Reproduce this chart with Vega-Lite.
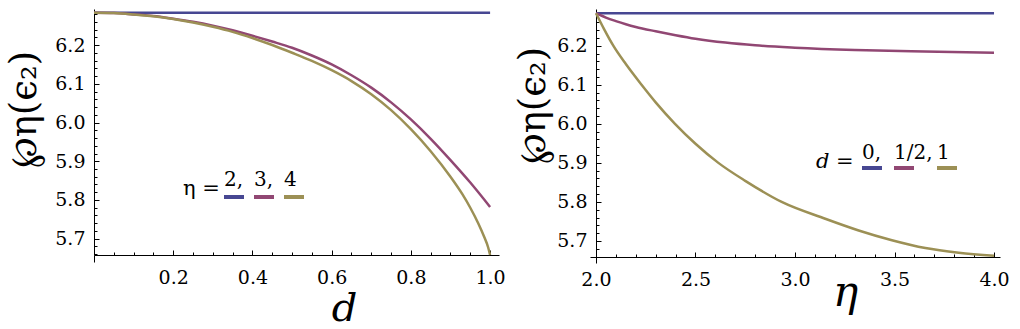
{
  "$schema": "https://vega.github.io/schema/vega-lite/v6.json",
  "background": "white",
  "padding": {"left": 5, "top": 7, "right": 5, "bottom": 5},
  "bounds": "flush",
  "spacing": 91,
  "config": {
    "view": {"stroke": null},
    "axis": {
      "domainColor": "black", "domainWidth": 1, "tickColor": "black", "tickWidth": 1,
      "labelColor": "black", "labelFont": "DejaVu Serif", "labelFontSize": 19,
      "titleColor": "black", "titleFont": "DejaVu Serif", "titleFontWeight": "normal",
      "grid": false, "labelFlush": false, "labelOverlap": false
    },
    "legend": {
      "labelFont": "DejaVu Serif", "labelFontSize": 20, "labelColor": "black",
      "titleFont": "DejaVu Serif", "titleFontSize": 21, "titleFontWeight": "normal", "titleColor": "black"
    }
  },
  "datasets": {
    "left": [
      {"d": 0, "value": 6.2832, "eta": "2"}, {"d": 0.25, "value": 6.2832, "eta": "2"}, {"d": 0.5, "value": 6.2832, "eta": "2"}, {"d": 0.75, "value": 6.2832, "eta": "2"}, {"d": 1, "value": 6.2832, "eta": "2"},
      {"d": 0, "value": 6.2832, "eta": "3"}, {"d": 0.05, "value": 6.2825, "eta": "3"}, {"d": 0.1, "value": 6.279, "eta": "3"}, {"d": 0.15, "value": 6.275, "eta": "3"}, {"d": 0.2, "value": 6.268, "eta": "3"}, {"d": 0.25, "value": 6.26, "eta": "3"}, {"d": 0.3, "value": 6.25, "eta": "3"}, {"d": 0.35, "value": 6.238, "eta": "3"}, {"d": 0.4, "value": 6.224, "eta": "3"}, {"d": 0.45, "value": 6.209, "eta": "3"}, {"d": 0.5, "value": 6.193, "eta": "3"}, {"d": 0.55, "value": 6.173, "eta": "3"}, {"d": 0.6, "value": 6.15, "eta": "3"}, {"d": 0.65, "value": 6.122, "eta": "3"}, {"d": 0.7, "value": 6.09, "eta": "3"}, {"d": 0.75, "value": 6.052, "eta": "3"}, {"d": 0.8, "value": 6.008, "eta": "3"}, {"d": 0.85, "value": 5.958, "eta": "3"}, {"d": 0.9, "value": 5.903, "eta": "3"}, {"d": 0.95, "value": 5.845, "eta": "3"}, {"d": 1, "value": 5.782, "eta": "3"},
      {"d": 0, "value": 6.2832, "eta": "4"}, {"d": 0.05, "value": 6.2825, "eta": "4"}, {"d": 0.1, "value": 6.279, "eta": "4"}, {"d": 0.15, "value": 6.274, "eta": "4"}, {"d": 0.2, "value": 6.267, "eta": "4"}, {"d": 0.25, "value": 6.258, "eta": "4"}, {"d": 0.3, "value": 6.247, "eta": "4"}, {"d": 0.35, "value": 6.234, "eta": "4"}, {"d": 0.4, "value": 6.218, "eta": "4"}, {"d": 0.45, "value": 6.2, "eta": "4"}, {"d": 0.5, "value": 6.18, "eta": "4"}, {"d": 0.55, "value": 6.159, "eta": "4"}, {"d": 0.6, "value": 6.135, "eta": "4"}, {"d": 0.65, "value": 6.107, "eta": "4"}, {"d": 0.7, "value": 6.073, "eta": "4"}, {"d": 0.75, "value": 6.032, "eta": "4"}, {"d": 0.8, "value": 5.983, "eta": "4"}, {"d": 0.85, "value": 5.926, "eta": "4"}, {"d": 0.9, "value": 5.86, "eta": "4"}, {"d": 0.93, "value": 5.815, "eta": "4"}, {"d": 0.95, "value": 5.78, "eta": "4"}, {"d": 0.97, "value": 5.74, "eta": "4"}, {"d": 0.985, "value": 5.705, "eta": "4"}, {"d": 0.995, "value": 5.678, "eta": "4"}, {"d": 1, "value": 5.658, "eta": "4"}
    ],
    "right": [
      {"eta": 2, "value": 6.2832, "d": "0"}, {"eta": 3, "value": 6.2832, "d": "0"}, {"eta": 4, "value": 6.2832, "d": "0"},
      {"eta": 2, "value": 6.2832, "d": "1/2"}, {"eta": 2.05, "value": 6.272, "d": "1/2"}, {"eta": 2.1, "value": 6.263, "d": "1/2"}, {"eta": 2.15, "value": 6.255, "d": "1/2"}, {"eta": 2.2, "value": 6.248, "d": "1/2"}, {"eta": 2.3, "value": 6.237, "d": "1/2"}, {"eta": 2.4, "value": 6.227, "d": "1/2"}, {"eta": 2.5, "value": 6.218, "d": "1/2"}, {"eta": 2.65, "value": 6.208, "d": "1/2"}, {"eta": 2.8, "value": 6.201, "d": "1/2"}, {"eta": 3.0, "value": 6.195, "d": "1/2"}, {"eta": 3.3, "value": 6.189, "d": "1/2"}, {"eta": 3.65, "value": 6.185, "d": "1/2"}, {"eta": 4.0, "value": 6.182, "d": "1/2"},
      {"eta": 2, "value": 6.2832, "d": "1"}, {"eta": 2.04, "value": 6.243, "d": "1"}, {"eta": 2.087, "value": 6.2, "d": "1"}, {"eta": 2.15, "value": 6.153, "d": "1"}, {"eta": 2.229, "value": 6.1, "d": "1"}, {"eta": 2.3, "value": 6.055, "d": "1"}, {"eta": 2.397, "value": 6.0, "d": "1"}, {"eta": 2.5, "value": 5.949, "d": "1"}, {"eta": 2.615, "value": 5.9, "d": "1"}, {"eta": 2.75, "value": 5.854, "d": "1"}, {"eta": 2.933, "value": 5.8, "d": "1"}, {"eta": 3.152, "value": 5.757, "d": "1"}, {"eta": 3.32, "value": 5.727, "d": "1"}, {"eta": 3.487, "value": 5.702, "d": "1"}, {"eta": 3.655, "value": 5.682, "d": "1"}, {"eta": 3.823, "value": 5.67, "d": "1"}, {"eta": 4.0, "value": 5.662, "d": "1"}
    ]
  },
  "resolve": {"scale": {"color": "independent"}},
  "hconcat": [
    {
      "width": 405,
      "height": 246,
      "data": {"name": "left"},
      "resolve": {"axis": {"x": "independent", "y": "independent"}},
      "layer": [
        {
          "mark": {"type": "line", "strokeWidth": 2.5, "interpolate": "monotone"},
          "encoding": {
            "x": {"field": "d", "type": "quantitative",
              "scale": {"domain": [0, 1.0225], "nice": false, "zero": false},
              "axis": {"orient": "bottom", "values": [0.2, 0.4, 0.6, 0.8, 1.0], "format": ".1f", "tickSize": -5, "labelPadding": 18,
                "title": "d", "titleFontSize": 40, "titleFontStyle": "italic", "titleX": 250, "titleY": 65, "titleAlign": "center", "titleBaseline": "alphabetic"}},
            "y": {"field": "value", "type": "quantitative",
              "scale": {"domain": [5.658, 6.293], "nice": false, "zero": false},
              "axis": {"orient": "left", "values": [5.7, 5.8, 5.9, 6.0, 6.1, 6.2], "format": ".1f", "tickSize": -5, "labelPadding": 14,
                "title": "℘η(ϵ₂)", "titleFontSize": 37, "titleX": -70, "titleY": 100, "titleAngle": 270, "titleAlign": "center", "titleBaseline": "middle"}},
            "color": {"field": "eta", "type": "nominal",
              "scale": {"domain": ["2", "3", "4"], "range": ["#474792", "#914773", "#9c9055"]},
              "legend": {"orient": "none", "legendX": 89, "legendY": 169, "direction": "horizontal", "title": "η =", "titleOrient": "left", "titlePadding": 2, "titleAnchor": "start", "titleBaseline": "top",
                "symbolType": "M-1,0.7H1", "symbolStrokeWidth": 4, "symbolSize": 400, "labelOffset": -22, "labelAlign": "left", "labelBaseline": "bottom", "columnPadding": -6,
                "labelExpr": "datum.label == '4' ? '4' : datum.label + ','"}}
          }
        },
        {
          "mark": {"type": "point", "opacity": 0},
          "encoding": {
            "x": {"field": "d", "type": "quantitative",
              "scale": {"domain": [0, 1.0225], "nice": false, "zero": false},
              "axis": {"orient": "bottom", "values": [0.05, 0.1, 0.15, 0.2, 0.25, 0.3, 0.35, 0.4, 0.45, 0.5, 0.55, 0.6, 0.65, 0.7, 0.75, 0.8, 0.85, 0.9, 0.95, 1.0], "labels": false, "domain": false, "tickSize": -3, "title": null}},
            "y": {"field": "value", "type": "quantitative",
              "scale": {"domain": [5.658, 6.293], "nice": false, "zero": false},
              "axis": {"orient": "left", "values": [5.66, 5.68, 5.7, 5.72, 5.74, 5.76, 5.78, 5.8, 5.82, 5.84, 5.86, 5.88, 5.9, 5.92, 5.94, 5.96, 5.98, 6.0, 6.02, 6.04, 6.06, 6.08, 6.1, 6.12, 6.14, 6.16, 6.18, 6.2, 6.22, 6.24, 6.26, 6.28], "labels": false, "domain": false, "tickSize": -3, "title": null}}
          }
        },
        {
          "mark": {"type": "point", "opacity": 0},
          "encoding": {
            "x": {"field": "d", "type": "quantitative",
              "scale": {"domain": [0, 1.0225], "nice": false, "zero": false},
              "axis": {"orient": "bottom", "values": [0], "labels": false, "domain": false, "tickSize": 7, "title": null}},
            "y": {"field": "value", "type": "quantitative",
              "scale": {"domain": [5.658, 6.293], "nice": false, "zero": false},
              "axis": null}
          }
        }
      ]
    },
    {
      "width": 410,
      "height": 248,
      "data": {"name": "right"},
      "resolve": {"axis": {"x": "independent", "y": "independent"}},
      "layer": [
        {
          "mark": {"type": "line", "strokeWidth": 2.5, "interpolate": "monotone"},
          "encoding": {
            "x": {"field": "eta", "type": "quantitative",
              "scale": {"domain": [1.97, 4.03], "nice": false, "zero": false},
              "axis": {"orient": "bottom", "values": [2.0, 2.5, 3.0, 3.5, 4.0], "format": ".1f", "tickSize": -5, "labelPadding": 18,
                "title": "η", "titleFontSize": 42, "titleFontStyle": "italic", "titleX": 255, "titleY": 48, "titleAlign": "center", "titleBaseline": "alphabetic"}},
            "y": {"field": "value", "type": "quantitative",
              "scale": {"domain": [5.659, 6.294], "nice": false, "zero": false},
              "axis": {"orient": "left", "offset": -6, "values": [5.7, 5.8, 5.9, 6.0, 6.1, 6.2], "format": ".1f", "tickSize": -5, "labelPadding": 14,
                "title": "℘η(ϵ₂)", "titleFontSize": 37, "titleX": -63, "titleY": 96, "titleAngle": 270, "titleAlign": "center", "titleBaseline": "middle"}},
            "color": {"field": "d", "type": "nominal",
              "scale": {"domain": ["0", "1/2", "1"], "range": ["#474792", "#914773", "#9c9055"]},
              "legend": {"orient": "none", "legendX": 226, "legendY": 142, "direction": "horizontal", "title": "d =", "titleFontStyle": "italic", "titleOrient": "left", "titlePadding": 6, "titleAnchor": "start", "titleBaseline": "top",
                "symbolType": "M-1,0.5H1", "symbolStrokeWidth": 4, "symbolSize": 400, "labelOffset": -22, "labelAlign": "left", "labelBaseline": "bottom", "columnPadding": -4,
                "labelExpr": "datum.label == '1' ? '1' : datum.label + ','"}}
          }
        },
        {
          "mark": {"type": "point", "opacity": 0},
          "encoding": {
            "x": {"field": "eta", "type": "quantitative",
              "scale": {"domain": [1.97, 4.03], "nice": false, "zero": false},
              "axis": {"orient": "bottom", "values": [2.0, 2.1, 2.2, 2.3, 2.4, 2.5, 2.6, 2.7, 2.8, 2.9, 3.0, 3.1, 3.2, 3.3, 3.4, 3.5, 3.6, 3.7, 3.8, 3.9, 4.0], "labels": false, "domain": false, "tickSize": -3, "title": null}},
            "y": {"field": "value", "type": "quantitative",
              "scale": {"domain": [5.659, 6.294], "nice": false, "zero": false},
              "axis": {"orient": "left", "offset": -6, "values": [5.66, 5.68, 5.7, 5.72, 5.74, 5.76, 5.78, 5.8, 5.82, 5.84, 5.86, 5.88, 5.9, 5.92, 5.94, 5.96, 5.98, 6.0, 6.02, 6.04, 6.06, 6.08, 6.1, 6.12, 6.14, 6.16, 6.18, 6.2, 6.22, 6.24, 6.26, 6.28], "labels": false, "domain": false, "tickSize": -3, "title": null}}
          }
        },
        {
          "mark": {"type": "point", "opacity": 0},
          "encoding": {
            "x": {"field": "eta", "type": "quantitative",
              "scale": {"domain": [1.97, 4.03], "nice": false, "zero": false},
              "axis": {"orient": "bottom", "values": [2.0], "labels": false, "domain": false, "tickSize": 6, "title": null}},
            "y": {"field": "value", "type": "quantitative",
              "scale": {"domain": [5.659, 6.294], "nice": false, "zero": false},
              "axis": null}
          }
        }
      ]
    }
  ]
}
